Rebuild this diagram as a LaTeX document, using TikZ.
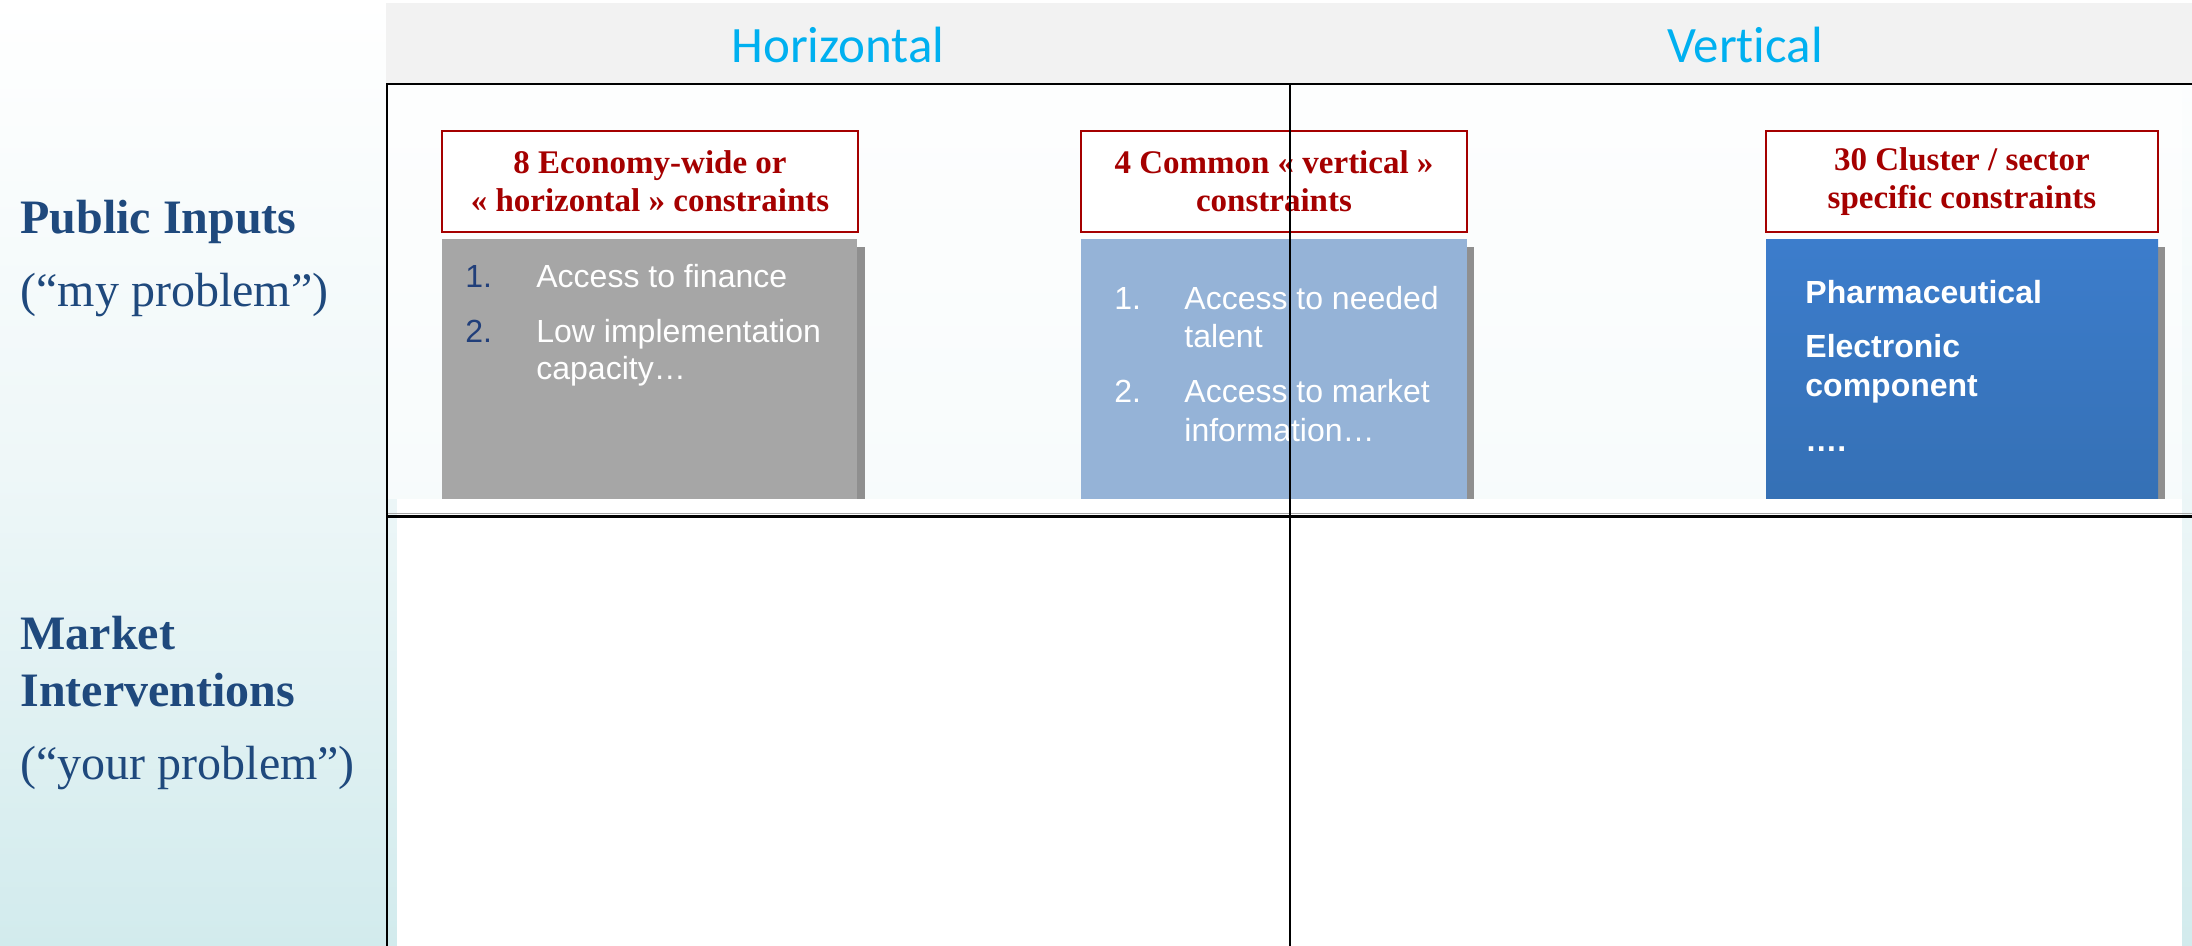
\documentclass[tikz,border=0pt]{standalone}
\usepackage{fontspec}
\setmainfont{Liberation Serif}
\newfontfamily\headfont[Ligatures=NoCommon]{Carlito}
\newfontfamily\listfont{Liberation Sans}

\definecolor{headcyan}{HTML}{00B0F0}
\definecolor{rowblue}{HTML}{1F497D}
\definecolor{titlered}{HTML}{A50000}
\definecolor{bandgrey}{HTML}{F2F2F2}
\definecolor{boxgrey}{HTML}{A6A6A6}
\definecolor{shadowgrey}{HTML}{8F8F8F}
\definecolor{boxlight}{HTML}{95B3D7}
\definecolor{boxdarktop}{HTML}{3C7DCC}
\definecolor{boxdarkbot}{HTML}{3570B5}
\definecolor{numblue}{HTML}{213F7A}
\definecolor{bgcyan}{HTML}{D2EBED}
\definecolor{bgmid}{HTML}{EEF7F8}

\tikzset{
  rowlabel/.style={anchor=base west, inner sep=0pt, text=rowblue, font=\fontsize{24pt}{28pt}\selectfont},
  colhead/.style={anchor=base, inner sep=0pt, text=headcyan, font=\headfont\fontsize{25.5pt}{30pt}\selectfont},
  titlebox/.style={draw=titlered, line width=1pt, fill=white, text=titlered, align=center,
    minimum width=#1, minimum height=50.5pt, inner sep=0pt,
    font=\bfseries\fontsize{16.5pt}{19pt}\selectfont},
  itemtext/.style={anchor=base west, inner sep=0pt, text=white, font=\listfont\fontsize{16pt}{18.5pt}\selectfont},
  itembold/.style={itemtext, font=\listfont\bfseries\fontsize{16pt}{18.5pt}\selectfont},
  gridline/.style={line width=1.25pt, black},
}

\begin{document}
\begin{tikzpicture}[x=0.5pt,y=-0.5pt]
  % page and background tint
  \useasboundingbox (0,0) rectangle (2192,946);
  \shade[top color=white, bottom color=bgmid] (0,0) rectangle (2192,473);
  \shade[top color=bgmid, bottom color=bgcyan] (0,473) rectangle (2192,946);
  \fill[white, opacity=0.6] (387,84) rectangle (2182,499);
  \fill[white] (397,499) rectangle (2182,946);

  % column header band
  \fill[bandgrey] (386,3) rectangle (2192,83);
  \node[colhead] (hhead) at (838,63) {Horizontal};
  \node[colhead] (vhead) at (1745,63) {Vertical};

  % row labels
  \node[rowlabel, font=\bfseries\fontsize{24pt}{28pt}\selectfont] (pub) at (20,234) {Public Inputs};
  \node[rowlabel] (pubsub) at (20,307) {(“my problem”)};
  \node[rowlabel, font=\bfseries\fontsize{24pt}{28pt}\selectfont] (mkt1) at (20,650) {Market};
  \node[rowlabel, font=\bfseries\fontsize{24pt}{28pt}\selectfont] (mkt2) at (20,706) {Interventions};
  \node[rowlabel] (mktsub) at (20,779) {(“your problem”)};

  % economy-wide constraints
  \node[titlebox=208pt] (t1) at (650,181.5) {8 Economy-wide or\\« horizontal » constraints};
  \fill[shadowgrey] (857,247) rectangle (865,499);
  \fill[boxgrey] (442,239) rectangle (857,499);
  \node[itemtext, text=numblue] (g1n) at (465,288) {1.};
  \node[itemtext] (g1) at (536,288) {Access to finance};
  \node[itemtext, text=numblue] (g2n) at (465,343) {2.};
  \node[itemtext] (g2a) at (536,343) {Low implementation};
  \node[itemtext] (g2b) at (536,380) {capacity…};

  % common vertical constraints
  \node[titlebox=193pt] (t2) at (1274,181.5) {4 Common « vertical »\\constraints};
  \fill[shadowgrey] (1467,247) rectangle (1474,499);
  \fill[boxlight] (1081,239) rectangle (1467,499);
  \node[itemtext] (l1n) at (1114,310) {1.};
  \node[itemtext] (l1a) at (1184,310) {Access to needed};
  \node[itemtext] (l1b) at (1184,348) {talent};
  \node[itemtext] (l2n) at (1114,403) {2.};
  \node[itemtext] (l2a) at (1184,403) {Access to market};
  \node[itemtext] (l2b) at (1184,442) {information…};

  % sector specific constraints
  \node[titlebox=196pt] (t3) at (1962,182) {30 Cluster / sector\\specific constraints};
  \fill[shadowgrey] (2158,247) rectangle (2165,499);
  \shade[top color=boxdarktop, bottom color=boxdarkbot] (1766,240) rectangle (2158,499);
  \node[itembold] (d1) at (1805,304) {Pharmaceutical};
  \node[itembold] (d2a) at (1805,358) {Electronic};
  \node[itembold] (d2b) at (1805,397) {component};
  \node[itembold] (d3) at (1805,452) {….};

  % grid lines
  \draw[gridline] (386,84) -- (2192,84);
  \draw[line width=0.6pt, black!35] (387,513.5) -- (2192,513.5);
  \draw[gridline] (387,516.5) -- (2192,516.5);
  \draw[gridline] (387,84) -- (387,946);
  \draw[line width=1pt, black] (1289.5,84) -- (1289.5,946);
\end{tikzpicture}
\end{document}
